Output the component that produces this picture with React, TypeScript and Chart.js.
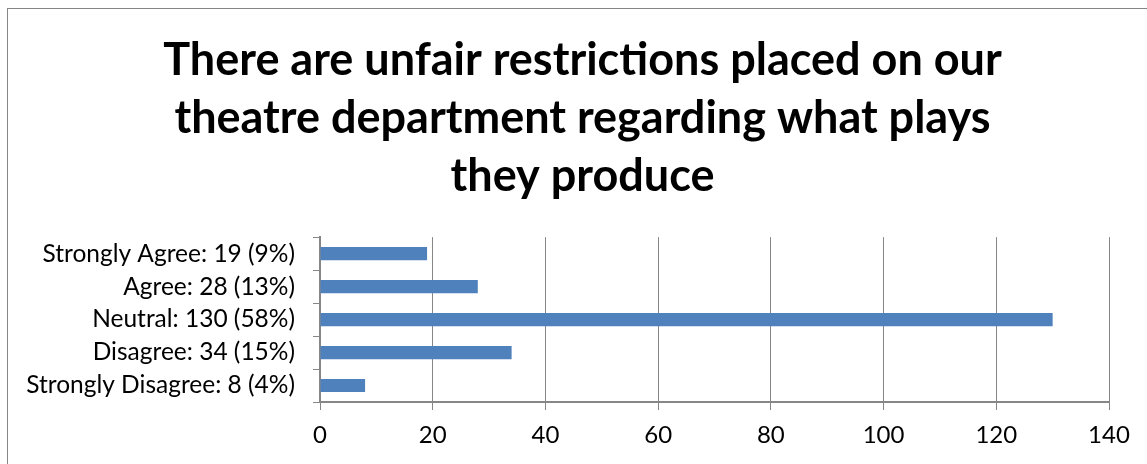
import React, { useEffect, useRef } from "react";
import { Chart, registerables } from "chart.js";

Chart.register(...registerables);

const titleLines = [
  "There are unfair restrictions placed on our",
  "theatre department regarding what plays",
  "they produce",
];
const categories = [
  "Strongly Agree: 19 (9%)",
  "Agree: 28 (13%)",
  "Neutral: 130 (58%)",
  "Disagree: 34 (15%)",
  "Strongly Disagree: 8 (4%)",
];
const values = [19, 28, 130, 34, 8];
const xMin = 0;
const xMax = 140;
const xStep = 20;

const FONT = "Lato, 'Liberation Sans', Arial, sans-serif";
const GRAY = "#868686";

export default function App() {
  const ref = useRef<HTMLCanvasElement | null>(null);
  useEffect(() => {
    document.body.style.overflow = "hidden";
    const canvas = ref.current!;
    const chart = new Chart(canvas, {
      type: "bar",
      data: {
        labels: categories,
        datasets: [
          {
            data: values,
            backgroundColor: "#4F81BD",
            barPercentage: 0.4,
            categoryPercentage: 1,
          },
        ],
      },
      options: {
        indexAxis: "y",
        animation: false,
        responsive: false,
        maintainAspectRatio: false,
        layout: { padding: 0 },
        plugins: {
          legend: { display: false },
          tooltip: { enabled: false },
          title: {
            display: true,
            text: titleLines,
            color: "#000",
            font: { family: FONT, size: 45, weight: "bold", lineHeight: 1.29 },
            padding: { top: 22, bottom: 32 },
          },
        },
        scales: {
          x: {
            min: xMin,
            max: xMax,
            ticks: {
              stepSize: xStep,
              color: "#000",
              font: { family: FONT, size: 24 },
              padding: 11,
            },
            grid: {
              color: GRAY,
              lineWidth: 1,
              drawTicks: true,
              tickLength: 8,
            },
            border: { color: GRAY, width: 2 },
            afterFit: (s: any) => {
              s.height = 62;
            },
          },
          y: {
            ticks: {
              color: "#000",
              font: { family: FONT, size: 24.5 },
              padding: 18,
            },
            grid: {
              drawOnChartArea: false,
              drawTicks: true,
              tickLength: 7,
              offset: true,
              color: GRAY,
            },
            border: { color: GRAY, width: 2 },
            afterFit: (s: any) => {
              s.width = 312;
            },
          },
          spacer: {
            type: "linear",
            position: "right",
            display: true,
            ticks: { display: false },
            grid: { display: false, drawTicks: false },
            border: { display: false },
            afterFit: (s: any) => {
              s.width = 48;
            },
          },
        },
      },
    });
    return () => chart.destroy();
  }, []);
  return (
    <div
      style={{
        position: "fixed",
        left: 7,
        top: 8,
        width: 1152,
        height: 470,
        border: `1px solid ${GRAY}`,
        background: "#fff",
        boxSizing: "border-box",
      }}
    >
      <canvas ref={ref} width={1149} height={455} style={{ display: "block" }} />
    </div>
  );
}
